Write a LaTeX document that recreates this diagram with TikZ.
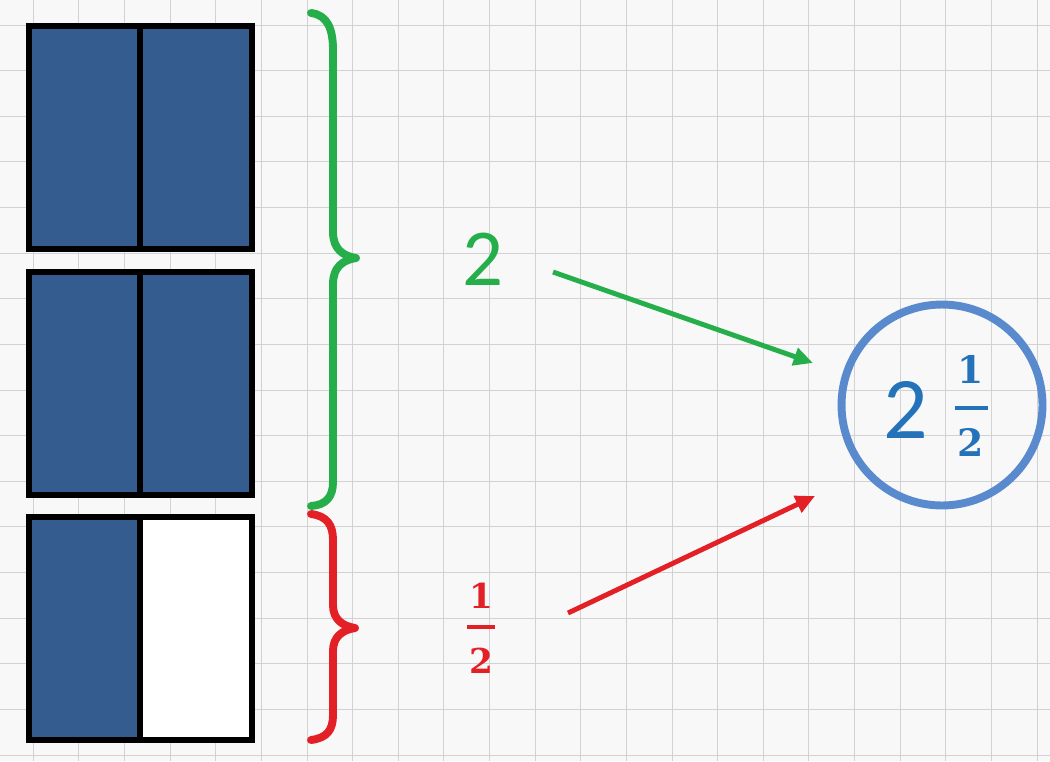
\documentclass[tikz,border=0pt]{standalone}
\usepackage{fontspec}
\newfontfamily\calibfont{Carlito}
\newfontfamily\fracfont{DejaVu Serif}
\usetikzlibrary{arrows.meta}
\definecolor{paper}{RGB}{248,248,248}
\definecolor{boxblue}{RGB}{53,92,142}
\definecolor{bracegreen}{RGB}{37,174,74}
\definecolor{bracered}{RGB}{226,32,38}
\definecolor{ringblue}{RGB}{88,138,205}
\definecolor{numblue}{RGB}{36,114,186}

\begin{document}
\begin{tikzpicture}[>={Triangle[length=11pt,width=10pt]},x=0.02cm,y=-0.02cm,
    gridline/.style={gray!35,line width=0.5pt},
    bar/.style={draw=black,line width=3.4pt},
    brace/.style={line width=4.5pt,line cap=round,line join=round},
    pointer/.style={->,line width=2.8pt},
    bigdigit/.style={font=\calibfont\fontsize{#1}{#1}\selectfont,inner sep=0pt},
    fracdigit/.style={font=\fracfont\bfseries\fontsize{#1}{#1}\selectfont,inner sep=0pt}]
\useasboundingbox (0,0) rectangle (1050,761);
\fill[paper] (0,0) rectangle (1050,761);
\foreach \k in {-7,...,16}
    \draw[gridline] ({307+45.625*\k},0) -- ({307+45.625*\k},761);
\foreach \k in {0,...,16}
    \draw[gridline] (0,{25+45.625*\k}) -- (1050,{25+45.625*\k});
% the three wholes
\foreach \ya/\rightfill in {26/boxblue,272/boxblue,517/white}{
    \fill[boxblue] (29,\ya) rectangle (140,{\ya+223});
    \fill[\rightfill] (140,\ya) rectangle (252,{\ya+223});
    \draw[bar] (29,\ya) rectangle (252,{\ya+223}) (140,\ya) -- (140,{\ya+223});
}
% braces
\draw[brace,bracegreen] (311,13) .. controls (328,15) and (333,30) .. (333,50)
    -- (333,232) .. controls (333,249) and (343,256) .. (356,258)
    .. controls (343,260) and (333,267) .. (333,284)
    -- (333,482) .. controls (333,497) and (326,505) .. (311,506);
\draw[brace,bracered] (311,514) .. controls (327,516) and (333,525) .. (333,540)
    -- (333,605) .. controls (333,619) and (342,626) .. (355,628)
    .. controls (342,630) and (333,637) .. (333,651)
    -- (333,715) .. controls (333,730) and (327,738) .. (311,740);
% labels
\node[bigdigit=46,text=bracegreen] (whole) at (483,259) {2};
\node[fracdigit=19.5,text=bracered] (halfnum) at (481,596) {1};
\node[fracdigit=19.5,text=bracered] (halfden) at (481,661) {2};
\draw[bracered,line width=2pt] (467,627) -- (495,627);
% the mixed number
\node[draw=ringblue,line width=4.5pt,circle,minimum size=4.02cm,inner sep=0pt] (mixed) at (942,405) {};
\node[bigdigit=50,text=numblue] (mixedwhole) at (906,410) {2};
\node[fracdigit=21.5,text=numblue] (mixednum) at (971,369) {1};
\node[fracdigit=21.5,text=numblue] (mixedden) at (971,442) {2};
\draw[numblue,line width=2.3pt] (955,408) -- (988,408);
% arrows
\coordinate (wholetail) at (553,272);
\coordinate (wholehead) at (813,363);
\coordinate (halftail) at (568,613);
\coordinate (halfhead) at (815,496);
\draw[pointer,bracegreen] (wholetail) -- (wholehead);
\draw[pointer,bracered] (halftail) -- (halfhead);
\end{tikzpicture}
\end{document}
